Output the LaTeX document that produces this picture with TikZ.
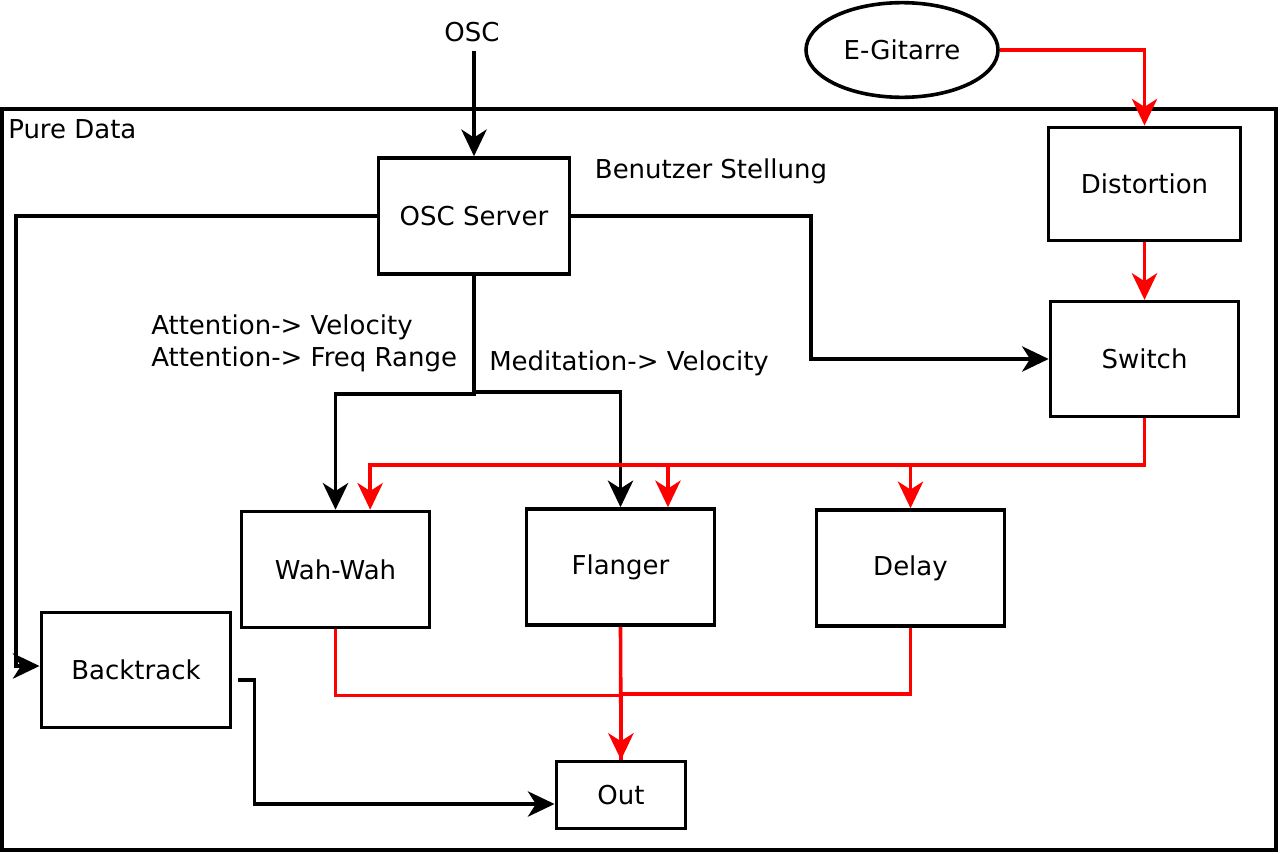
\documentclass[tikz,border=0pt]{standalone}
\usepackage{fontspec}
\setmainfont{DejaVu Sans}
\usetikzlibrary{arrows.meta,shapes.geometric}
\begin{document}
\begin{tikzpicture}[x=0.75pt,y=-0.75pt,
  font=\fontsize{19.5}{24}\selectfont,
  box/.style={draw,line width=2.7pt,inner sep=0pt},
  lbl/.style={inner sep=0pt},
  conn/.style={line width=2.7pt,-{Stealth[length=20pt,width=19pt,inset=6pt]}},
  redconn/.style={conn,red},
  redline/.style={line width=2.7pt,red}]
\useasboundingbox (0,0) rectangle (1280,853);
\draw[line width=2.7pt] (2,109) rectangle (1276,850);
\node[lbl,anchor=west] (pdlabel) at (8,129) {Pure Data};
\node[lbl] (osc) at (472,32) {OSC};
\node[box,ellipse,minimum width=144pt,minimum height=71pt] (egit) at (902,50) {E-Gitarre};
\node[box,minimum width=143pt,minimum height=87pt] (srv) at (474,216) {OSC Server};
\node[box,minimum width=144pt,minimum height=85pt] (dist) at (1144.5,184) {Distortion};
\node[box,minimum width=141pt,minimum height=86pt] (sw) at (1144.5,359) {Switch};
\node[box,minimum width=141pt,minimum height=87pt] (wah) at (335.5,569.5) {Wah-Wah};
\node[box,minimum width=141pt,minimum height=87pt] (flg) at (620.5,567) {Flanger};
\node[box,minimum width=141pt,minimum height=87pt] (dly) at (910.5,568) {Delay};
\node[box,minimum width=142pt,minimum height=86pt] (back) at (136,670) {Backtrack};
\node[box,minimum width=97pt,minimum height=50pt] (out) at (621,795) {Out};
\node[lbl] (lbl1) at (711,171) {Benutzer Stellung};
\node[lbl,anchor=west,align=left] (lbl2) at (151,343) {Attention-> Velocity\\Attention-> Freq Range};
\node[lbl,anchor=west] (lbl3) at (489,363) {Meditation-> Velocity};
% black connectors
\draw[conn] ([yshift=-7pt]osc.south -| srv.north) -- (srv.north);
\draw[conn] (srv.east) -- ++(240,0) |- (sw.west);
\draw[conn] (srv.west) -- ++(-361,0) |- ([yshift=3pt]back.west);
\draw[conn] (srv.south) -- ++(0,118) -| (wah.north);
\draw[conn] (srv.south) -- ++(0,116) -| (flg.north);
\draw[conn] ([shift={(4.5pt,-7.5pt)}]back.east) -- ++(16,0) |- ([yshift=-6.75pt]out.west);
% red connectors
\draw[redconn] (egit.east) -| (dist.north);
\draw[redconn] (dist.south) -- (sw.north);
\path (sw.south) -- ++(0,47) coordinate (bus);
\draw[redconn] (sw.south) -- (bus) -| ([xshift=26pt]wah.north);
\draw[redconn] (bus) -| ([xshift=35.6pt]flg.north);
\draw[redconn] (bus) -| (dly.north);
\draw[redline] (wah.south) -- ++(0,66) -| (out.north);
\draw[redline] (dly.south) -- ++(0,66) -| (out.north);
\draw[redconn] (flg.south) -- (out.north);
\end{tikzpicture}
\end{document}
